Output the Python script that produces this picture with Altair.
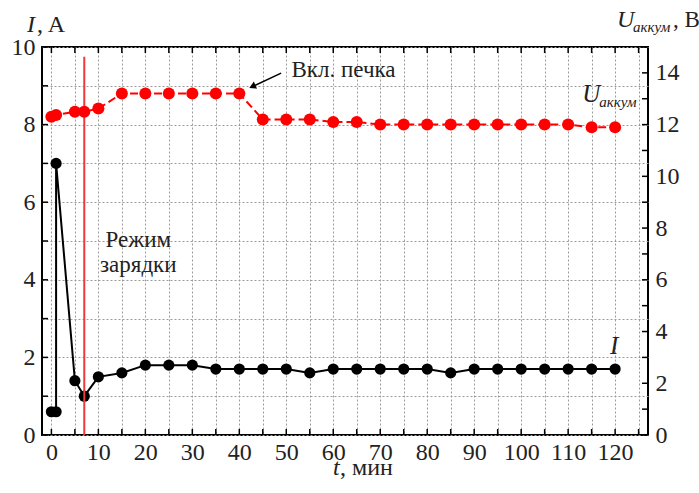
import altair as alt
import pandas as pd

# ---- data ----
t_I = [0, 1, 1, 5, 7, 10, 15, 20, 25, 30, 35, 40, 45, 50, 55, 60, 65, 70, 75, 80,
       85, 90, 95, 100, 105, 110, 115, 120]
I_vals = [0.6, 0.6, 7.0, 1.4, 1.0, 1.5, 1.6, 1.8, 1.8, 1.8, 1.7, 1.7, 1.7, 1.7, 1.6,
          1.7, 1.7, 1.7, 1.7, 1.7, 1.6, 1.7, 1.7, 1.7, 1.7, 1.7, 1.7, 1.7]
t_U = [0, 1, 5, 7, 10, 15, 20, 25, 30, 35, 40, 45, 50, 55, 60, 65, 70, 75, 80, 85,
       90, 95, 100, 105, 110, 115, 120]
U_vals = [12.3, 12.37, 12.5, 12.5, 12.62, 13.2, 13.2, 13.2, 13.2, 13.2, 13.2, 12.2,
          12.2, 12.2, 12.1, 12.1, 12.0, 12.0, 12.0, 12.0, 12.0, 12.0, 12.0, 12.0,
          12.0, 11.9, 11.9]
x_ticks = list(range(0, 126, 5))
yL_ticks = list(range(0, 11))
yR_ticks = list(range(0, 16))
charge_t = [7]
charge_top = [9.75]
charge_label = ["Режим", "зарядки"]
heater_label = ["Вкл. печка"]

F = "'Liberation Serif', 'Times New Roman', serif"
W, H = 606, 388

dfI = pd.DataFrame({"t": t_I, "I": I_vals, "idx": range(len(t_I))})
dfU = pd.DataFrame({"t": t_U, "U": U_vals, "idx": range(len(t_U))})

xs = alt.Scale(domain=[-2, 127], nice=False, zero=False)
ysL = alt.Scale(domain=[0, 10], nice=False)
ysR = alt.Scale(domain=[0, 15], nice=False)

lab = dict(labelFont=F, labelFontSize=24, labelColor="#222", labelFlush=False)
xaxis = alt.Axis(values=x_ticks, labelExpr="datum.value % 10 == 0 ? datum.label : ''",
                 grid=True, gridDash=[2, 2], gridColor="#9a9a9a", gridWidth=1,
                 ticks=False, domain=False, title=None, labelPadding=5, **lab)
yLaxis = alt.Axis(values=yL_ticks, labelExpr="datum.value % 2 == 0 ? datum.label : ''",
                  grid=True, gridDash=[2, 2], gridColor="#9a9a9a", gridWidth=1,
                  ticks=False, domain=False, title=None, labelPadding=7, **lab)
yRaxis = alt.Axis(values=yR_ticks, labelExpr="datum.value % 2 == 0 ? datum.label : ''",
                  orient="right", grid=False, ticks=False, domain=False, title=None,
                  labelPadding=7, **lab)


def X(f):
    return alt.X(f, type="quantitative", scale=xs, axis=xaxis)


def YL(f):
    return alt.Y(f, type="quantitative", scale=ysL, axis=yLaxis)


def YR(f):
    return alt.Y(f, type="quantitative", scale=ysR, axis=yRaxis)


one = pd.DataFrame({"a": [0]})

# ---------- left (current) group ----------
I_line = alt.Chart(dfI).mark_line(color="black", strokeWidth=2).encode(
    x=X("t"), y=YL("I"), order="idx:Q")
I_pts = alt.Chart(dfI).mark_circle(color="black", size=125, opacity=1).encode(
    x=X("t"), y=YL("I"))
vline = alt.Chart(pd.DataFrame({"t": charge_t, "lo": [0], "hi": charge_top})).mark_rule(
    color="#ee3a3a", strokeWidth=2).encode(x=X("t"), y=YL("lo"), y2="hi")

tx = pd.DataFrame({"t": x_ticks})
bot_ticks = alt.Chart(tx).mark_rule(color="black", strokeWidth=1.5).encode(
    x=X("t"), y=alt.value(H), y2=alt.value(H - 6))
top_ticks = alt.Chart(tx).mark_rule(color="black", strokeWidth=1.5).encode(
    x=X("t"), y=alt.value(0), y2=alt.value(6))
tyl = pd.DataFrame({"v": yL_ticks})
left_ticks = alt.Chart(tyl).mark_rule(color="black", strokeWidth=1.5).encode(
    y=YL("v"), x=alt.value(0), x2=alt.value(6))

charge_df = pd.DataFrame({"t": [18.5, 18.5], "y": [4.85, 4.2], "txt": charge_label})
charge_txt = alt.Chart(charge_df).mark_text(font=F, fontSize=23, align="center",
                                            baseline="alphabetic", color="#222").encode(
    x=X("t"), y=YL("y"), text="txt:N")
I_lab = alt.Chart(pd.DataFrame({"t": [119.8], "y": [2.1], "txt": ["I"]})).mark_text(
    font=F, fontSize=25, fontStyle="italic", align="center", baseline="alphabetic",
    color="#222").encode(x=X("t"), y=YL("y"), text="txt:N")


# axis titles (outside the plot)
def ttl(txt, x, y, size=24, italic=False, align="left"):
    kw = dict(font=F, fontSize=size, align=align, baseline="alphabetic", color="#222")
    if italic:
        kw["fontStyle"] = "italic"
    return alt.Chart(one).mark_text(**kw).encode(
        x=alt.value(x), y=alt.value(y), text=alt.value(txt))


titles = [
    ttl("I", -15, -15, italic=True), ttl(", A", -5, -15),
    ttl("U", 575, -20, italic=True), ttl("аккум", 591, -15, size=15, italic=True),
    ttl(", B", 631, -20, size=23),
    ttl("t", 291, 428, italic=True), ttl(", мин", 298, 428),
]

left = alt.layer(I_line, I_pts, vline, bot_ticks, top_ticks, left_ticks,
                 charge_txt, I_lab, *titles)

# ---------- right (voltage) group ----------
U_line = alt.Chart(dfU).mark_line(color="#ff0000", strokeWidth=2, strokeDash=[8, 4]).encode(
    x=X("t"), y=YR("U"), order="idx:Q")
U_pts = alt.Chart(dfU).mark_circle(color="#ff0000", size=145, opacity=1).encode(
    x=X("t"), y=YR("U"))
tyr = pd.DataFrame({"v": yR_ticks})
right_ticks = alt.Chart(tyr).mark_rule(color="black", strokeWidth=1.5).encode(
    y=YR("v"), x=alt.value(W), x2=alt.value(W - 6))

heat_txt = alt.Chart(pd.DataFrame({"t": [51.1], "y": [13.84], "txt": heater_label})).mark_text(
    font=F, fontSize=23, align="left", baseline="alphabetic", color="#222").encode(
    x=X("t"), y=YR("y"), text="txt:N")
arrow = alt.Chart(pd.DataFrame({"t": [48.9], "y": [13.99], "t2": [42.6], "y2": [13.45]})).mark_rule(
    color="black", strokeWidth=1.5).encode(x=X("t"), y=YR("y"), x2="t2", y2="y2")
arrow_head = alt.Chart(pd.DataFrame({"t": [43.0], "y": [13.49]})).mark_point(
    shape="triangle", filled=True, color="black", size=60, angle=246, opacity=1).encode(
    x=X("t"), y=YR("y"))
U_lab = alt.Chart(pd.DataFrame({"t": [113.0], "y": [12.87], "txt": ["U"]})).mark_text(
    font=F, fontSize=25, fontStyle="italic", align="left", baseline="alphabetic",
    color="#222").encode(x=X("t"), y=YR("y"), text="txt:N")
U_sub = alt.Chart(pd.DataFrame({"t": [116.6], "y": [12.68], "txt": ["аккум"]})).mark_text(
    font=F, fontSize=15, fontStyle="italic", align="left", baseline="alphabetic",
    color="#222").encode(x=X("t"), y=YR("y"), text="txt:N")

right = alt.layer(U_line, U_pts, right_ticks, heat_txt, arrow, arrow_head, U_lab, U_sub)

chart = alt.layer(left, right).resolve_scale(y="independent").properties(
    width=W, height=H,
    autosize=alt.AutoSizeParams(type="none"),
    padding={"left": 42, "top": 47, "right": 51, "bottom": 58},
    view=alt.ViewBackground(stroke="black", strokeWidth=2),
)

chart.save("out.html", embed_options={"renderer": "svg", "actions": False})
